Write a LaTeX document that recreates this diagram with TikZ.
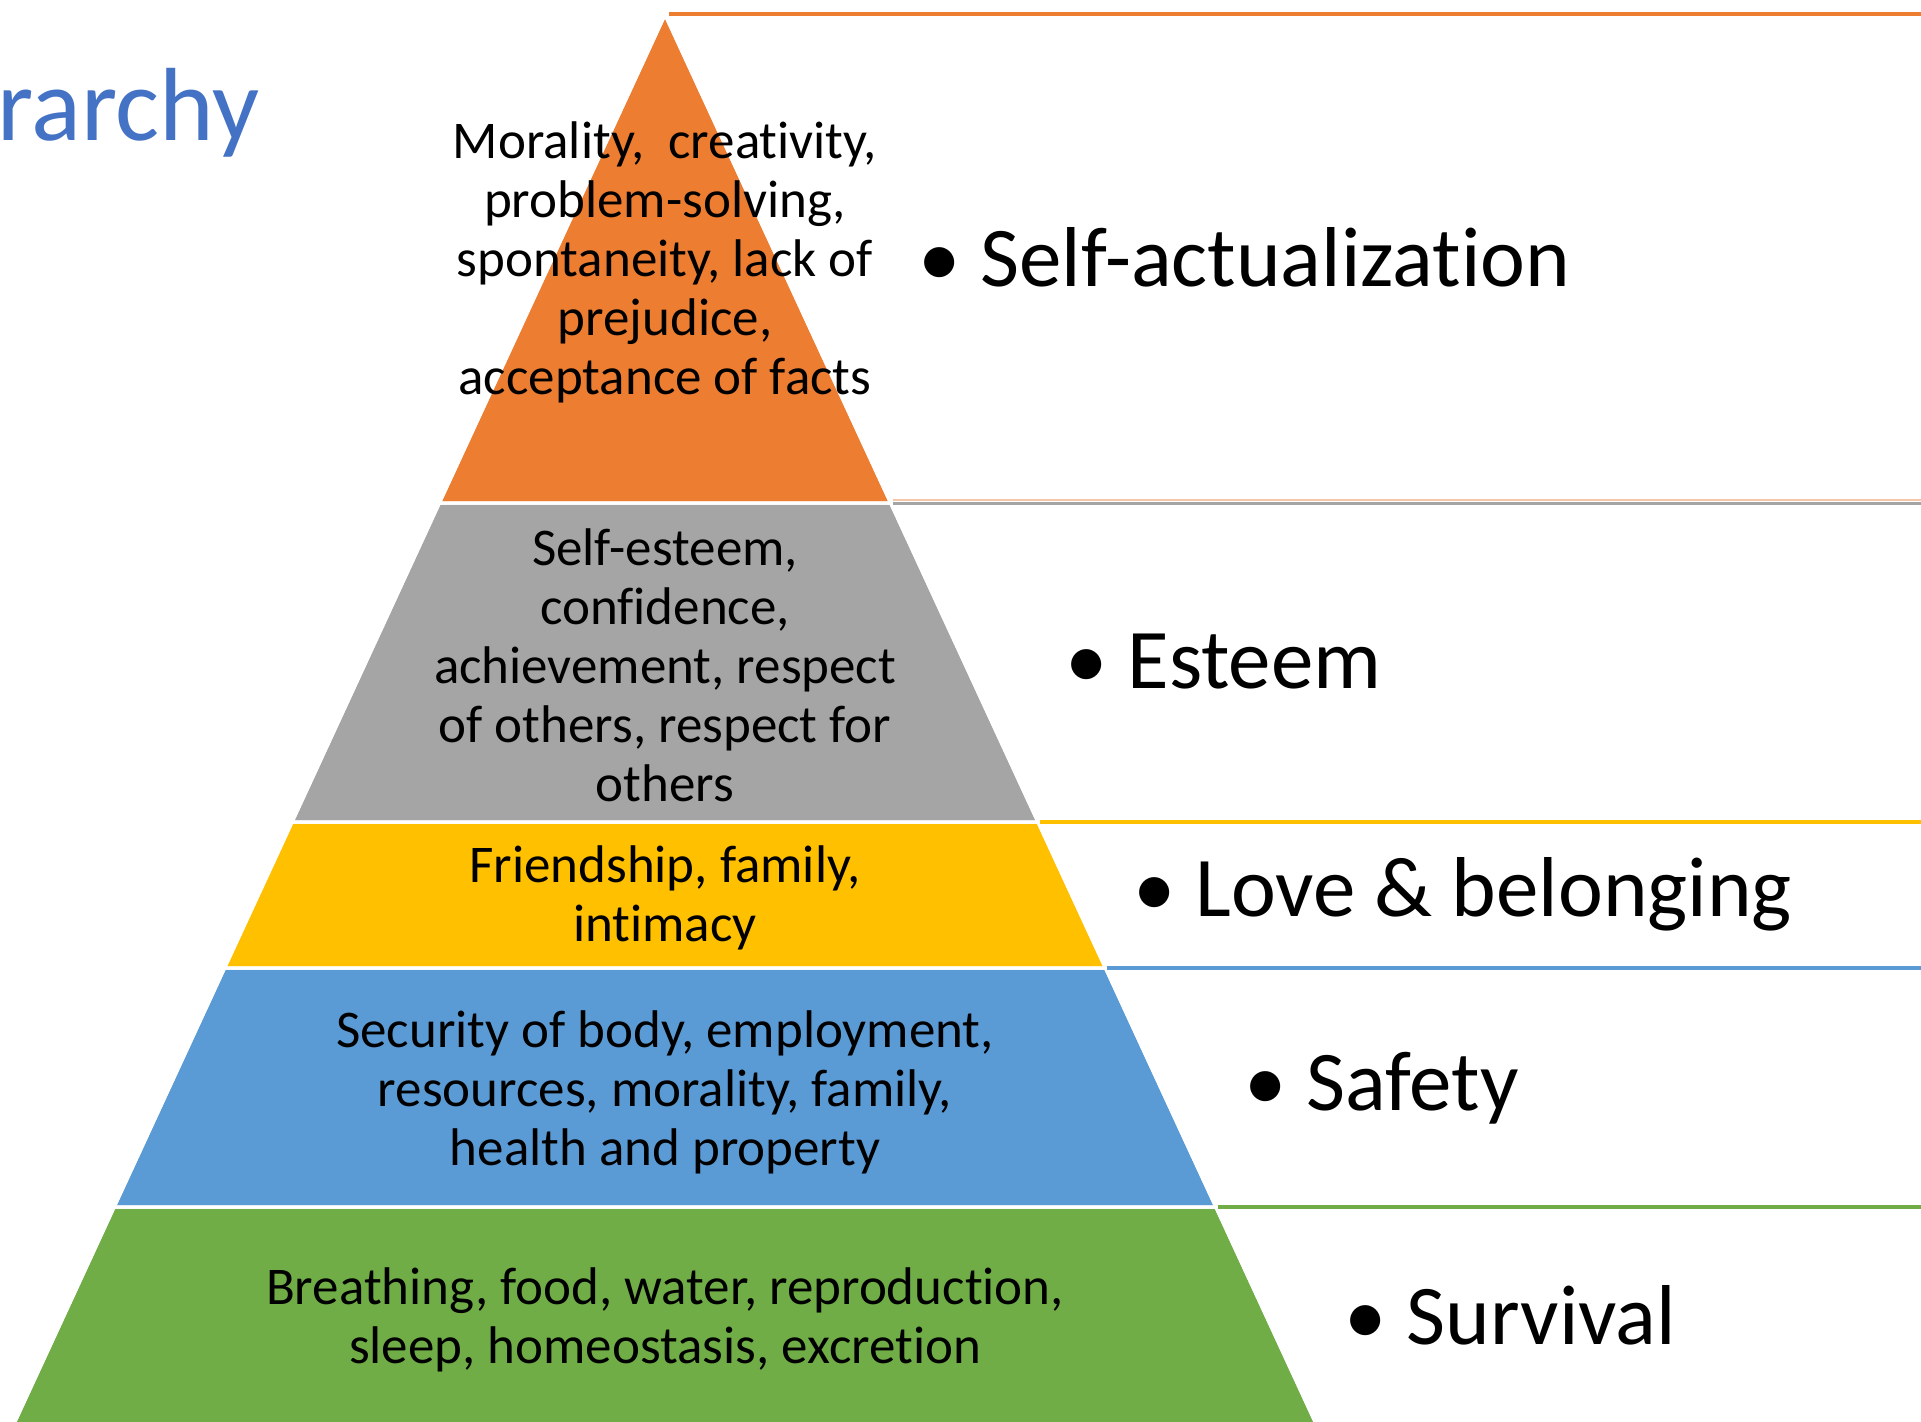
\documentclass[tikz,border=0pt]{standalone}
\usepackage{fontspec}
\setmainfont{Carlito}[Ligatures=NoCommon]
\usetikzlibrary{calc}
\definecolor{lvorange}{HTML}{ED7D31}
\definecolor{lvgray}{HTML}{A5A5A5}
\definecolor{lvyellow}{HTML}{FFC000}
\definecolor{lvblue}{HTML}{5B9BD5}
\definecolor{lvgreen}{HTML}{70AD47}
\definecolor{titleblue}{HTML}{4472C4}
\definecolor{peach}{HTML}{F4C7A8}
\tikzset{
  band/.style={draw=white, line width=3pt, line join=miter},
  bandtext/.style={align=center, text=black, inner sep=0pt,
    font=\fontsize{53}{59}\selectfont},
  levellabel/.style={anchor=west, text=black, inner sep=0pt,
    font=\fontsize{85}{100}\selectfont},
  rule/.style={line width=3.5pt},
}
\begin{document}
\begin{tikzpicture}[x=1pt,y=-1pt]
\useasboundingbox (0,0) rectangle (1921,1421);
\begin{scope}
\clip (0,0) rectangle (1921,1421);

% pyramid bands (apex at 665,15; half-width grows 0.462 per unit of depth)
\coordinate (apex) at (665,15);
\coordinate (l1) at (439.5,503);  \coordinate (r1) at (890.5,503);
\coordinate (l2) at (292.2,822);  \coordinate (r2) at (1037.8,822);
\coordinate (l3) at (224.7,968);  \coordinate (r3) at (1105.3,968);
\coordinate (l4) at (114.3,1207); \coordinate (r4) at (1215.7,1207);
\coordinate (l5) at (11.3,1430);  \coordinate (r5) at (1318.7,1430);

\fill[band, fill=lvorange] (apex) -- (r1) -- (l1) -- cycle;
\fill[band, fill=lvgray]   (l1) -- (r1) -- (r2) -- (l2) -- cycle;
\fill[band, fill=lvyellow] (l2) -- (r2) -- (r3) -- (l3) -- cycle;
\fill[band, fill=lvblue]   (l3) -- (r3) -- (r4) -- (l4) -- cycle;
\fill[band, fill=lvgreen]  (l4) -- (r4) -- (r5) -- (l5) -- cycle;
\draw[band] (apex) -- (r1) -- (l1) -- cycle;
\draw[band] (l1) -- (r1) -- (r2) -- (l2) -- cycle;
\draw[band] (l2) -- (r2) -- (r3) -- (l3) -- cycle;
\draw[band] (l3) -- (r3) -- (r4) -- (l4) -- cycle;
\draw[band] (l4) -- (r4) -- (r5) -- (l5) -- cycle;

% rules running right from each band top
\coordinate (e0) at (1921,14);
\coordinate (e1) at (1921,503);
\coordinate (e2) at (1921,822);
\coordinate (e3) at (1921,968);
\coordinate (e4) at (1921,1207);
\draw[rule, lvorange] ($(apex)+(4,-1)$) -- (e0);
\draw[line width=1.5pt, peach] ($(r1)+(2,-3)$) -- ($(e1)+(0,-3)$);
\draw[rule, lvgray]   ($(r1)+(2,0.5)$) -- ($(e1)+(0,0.5)$);
\draw[rule, lvyellow] ($(r2)+(2,0)$) -- (e2);
\draw[rule, lvblue]   ($(r3)+(2,0)$) -- (e3);
\draw[rule, lvgreen]  ($(r4)+(2,0)$) -- (e4);

% band descriptions
\node[bandtext] (t1) at (665,262) {Morality,\ \ creativity,\\problem-solving,\\spontaneity, lack of\\prejudice,\\acceptance of facts};
\node[bandtext] (t2) at (665,665) {Self-esteem,\\confidence,\\achievement, respect\\of others, respect for\\others};
\node[bandtext] (t3) at (665,898) {Friendship, family,\\intimacy};
\node[bandtext] (t4) at (665,1092) {Security of body, employment,\\resources, morality, family,\\health and property};
\node[bandtext] (t5) at (665,1320) {Breathing, food, water, reproduction,\\sleep, homeostasis, excretion};

% level names
\node[levellabel] (n1) at (918,257)  {\textbullet\hspace{20pt}Self-actualization};
\node[levellabel] (n2) at (1065,662) {\textbullet\hspace{20pt}Esteem};
\node[levellabel] (n3) at (1133,894) {\textbullet\hspace{20pt}Love \& belonging};
\node[levellabel] (n4) at (1244,1088) {\textbullet\hspace{20pt}Safety};
\node[levellabel] (n5) at (1344,1315) {\textbullet\hspace{20pt}Survival};

% title fragment
\node[anchor=base west, inner sep=0pt, text=titleblue,
  font=\fontsize{104}{124}\selectfont] (title) at (-3,140) {rarchy};
\end{scope}
\end{tikzpicture}
\end{document}
